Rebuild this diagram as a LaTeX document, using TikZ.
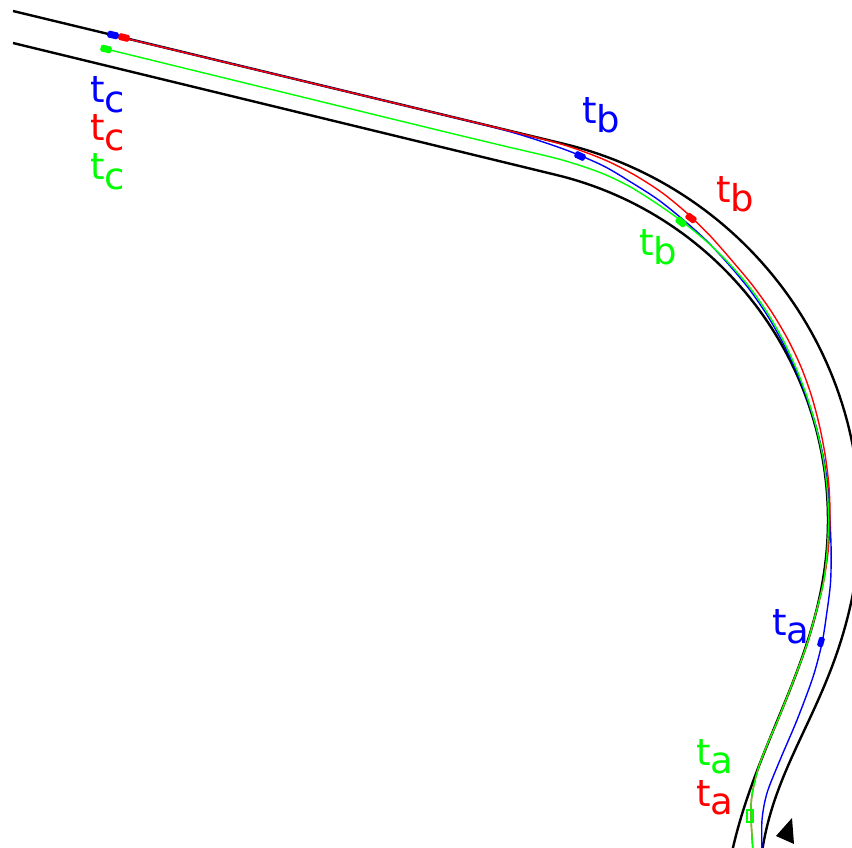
\documentclass[tikz,border=0pt]{standalone}
\usepackage{fontspec}
\setmainfont{DejaVu Sans}
\begin{document}
\begin{tikzpicture}[x=1pt,y=-1pt,
  road/.style={draw=black,line width=2.4pt},
  traj/.style={line width=1.4pt},
  mk/.style={draw=none,rectangle,rounded corners=1.5pt,inner sep=0pt,minimum width=11pt,minimum height=7pt},
  lbl/.style={anchor=base west,inner sep=0pt,font=\fontsize{37}{37}\selectfont}]
\useasboundingbox (0,0) rectangle (852,847);
% road boundaries
\draw[road] (13,11) -- plot[domain=-76.47:12,samples=70] ({473+387*cos(\x)},{520+387*sin(\x)})
   .. controls (828.6,708.1) and (775.5,761) .. (762,852);
\draw[road] (13,43) -- plot[domain=-76.47:10,samples=70] ({473+355*cos(\x)},{520+355*sin(\x)})
   .. controls (805.2,680.1) and (754,752.5) .. (732,852);
% trajectories
\begin{scope}[shift={(473,520)}]
\draw[traj,blue] plot[smooth,tension=0.5] coordinates {(-360,-484.7) (-55.2,-411.3) (32.2,-389.7) (-76.47:382) (-70:377.5) (-65:373) (-60:370) (-55:366.5) (-50:364) (-45:361.5) (-40:360) (-35:358.5) (-30:357) (-25:356) (-20:355.5) (-15:355.5) (-10:356) (-5:356.5) (0:357) (5:359.5) (10:363) (15:366) (349,123) (340,157) (324,200) (307,240) (294,273) (289,300) (289,332)};
\draw[traj,red] plot[smooth,tension=0.5] coordinates {(-349,-482) (-55.2,-411.3) (32.3,-390.2) (-76.47:386) (-70:383.5) (-65:381) (-60:378) (-55:374) (-50:370) (-45:366.5) (-40:365) (-35:364) (-30:363) (-25:362) (-20:360.5) (-15:359) (-10:358) (-5:357.5) (0:357) (5:356.5) (10:356) (343.5,90.4) (331.5,131.5) (306.5,196) (295.5,221.5) (285.5,247.5) (279,275) (278,297) (280,332)};
\draw[traj,green] plot[smooth,tension=0.5] coordinates {(-367,-471) (-58.9,-395.7) (28.6,-374.6) (-76.47:371) (-70:370) (-65:368.5) (-60:366) (-55:364.5) (-50:363.5) (-45:362.5) (-40:361.5) (-35:360) (-30:358.5) (-25:357) (-20:356) (-15:355.5) (-10:355.5) (-5:355.5) (0:355.5) (5:355.5) (10:356) (343.5,90.4) (331.5,131.5) (306.5,196) (295.5,221.5) (285.5,247.5) (279,275) (278,297) (280,332)};
\end{scope}
% markers
\node[mk,fill=blue,rotate=-13.5] (mbc) at (113,35) {};
\node[mk,fill=red,rotate=-13.5] (mrc) at (124,37.5) {};
\node[mk,fill=green,rotate=-13.5] (mgc) at (106,49) {};
\node[mk,fill=blue,rotate=-25] (mbb) at (580,156) {};
\node[mk,fill=red,rotate=-36] (mrb) at (691,218) {};
\node[mk,fill=green,rotate=-38] (mgb) at (681,222) {};
\node[mk,fill=blue,rotate=74,minimum width=10pt,minimum height=6pt] (mba) at (821,642) {};
\node[draw=green,line width=1.2pt,rectangle,inner sep=0pt,minimum width=6pt,minimum height=12pt] (mga) at (750,816) {};
% labels
\node[lbl,blue] (lbc) at (90,102) {t\raisebox{-10pt}{c}};
\node[lbl,red] (lrc) at (90,140) {t\raisebox{-10pt}{c}};
\node[lbl,green] (lgc) at (90,179) {t\raisebox{-10pt}{c}};
\node[lbl,blue] (lbb) at (582,123) {t\raisebox{-9pt}{b}};
\node[lbl,red] (lrb) at (716,202) {t\raisebox{-9pt}{b}};
\node[lbl,green] (lgb) at (639,255) {t\raisebox{-9pt}{b}};
\node[lbl,blue] (lba) at (772,635) {t\raisebox{-8pt}{a}};
\node[lbl,green] (lga) at (696,765) {t\raisebox{-8pt}{a}};
\node[lbl,red] (lra) at (696,806) {t\raisebox{-8pt}{a}};
% direction arrow
\fill[black] (792,818) -- (776,836) -- (794,844) -- cycle;
\end{tikzpicture}
\end{document}
